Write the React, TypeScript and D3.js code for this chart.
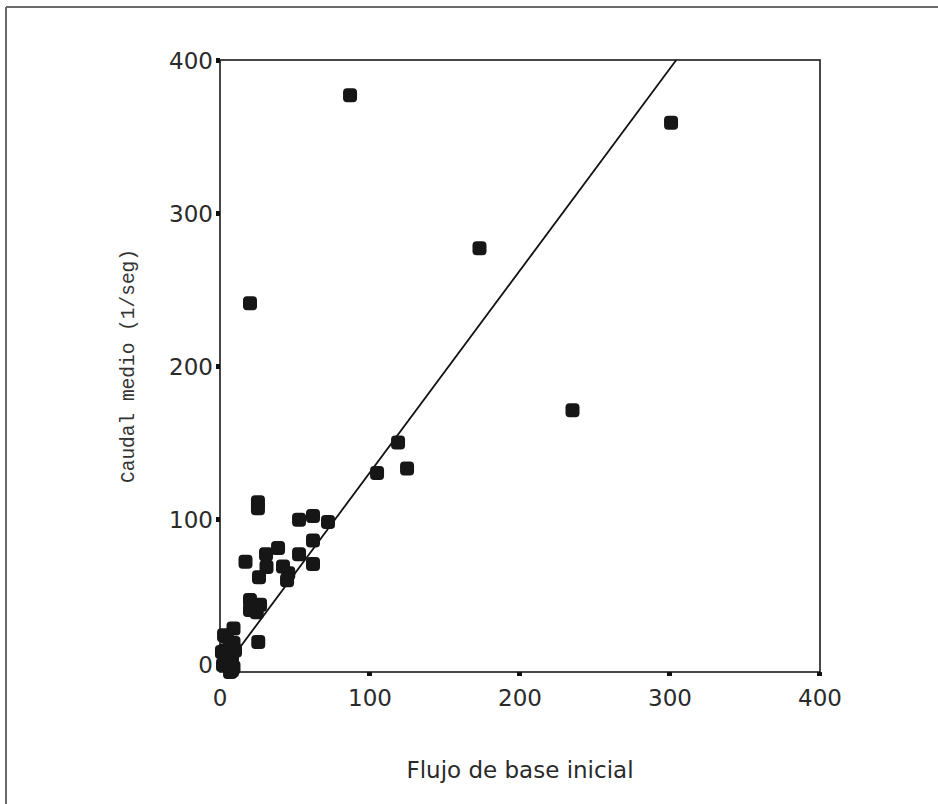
import React from "react";
import * as d3 from "d3";

const flujoBase: number[] = [
  86.7, 300.7, 173, 20, 235, 118.7, 124.7, 104.7,
  25.3, 25.3, 52.7, 62, 72, 62, 52.7, 62, 38.7, 30.7, 17, 31, 26, 42, 45.5, 44.7,
  20, 20, 26.7, 24.5, 25.5,
  9, 4.5, 9, 3.3, 8, 10, 2, 6.7, 9, 1.3, 2.7, 8, 5, 7,
];
const caudalMedio: number[] = [
  377, 359, 277, 241, 171, 150, 133, 130,
  111, 107, 99.5, 102, 98, 86, 77, 70.6, 81, 77, 72, 68.6, 62, 69, 64.6, 60,
  47, 40.5, 44, 39, 19.6,
  28.5, 23, 19, 14, 10, 14, 4.6, 0, 3, 13, 24, 1, 8, 17,
];
const xTicks: number[] = [0, 100, 200, 300, 400];
const yTicks: number[] = [0, 100, 200, 300, 400];
const fitIntercept = -1.5;
const fitSlope = 1.32;

const xLabel = "Flujo de base inicial";
const yLabel = "Caudal medio (1/seg)";

export default function App() {
  const W = 938, H = 804;
  const left = 220, right = 820, top = 60, bottom = 672;
  const x = d3.scaleLinear().domain([0, 400]).range([left, right]);
  const y = d3.scaleLinear().domain([0, 400]).range([bottom, top]);

  const fx0 = 2;
  const fx1 = (400 - fitIntercept) / fitSlope;
  const fitLine = d3.line<number>()
    .x((d) => x(d))
    .y((d) => y(fitIntercept + fitSlope * d))([fx0, fx1]);

  const tickFont = "'DejaVu Sans', sans-serif";
  const data = flujoBase.map((v, i) => [v, caudalMedio[i]]);
  const ms = 14;

  return (
    <svg width={W} height={H} style={{ position: "absolute", left: 0, top: 0, background: "#fff" }}>
      <rect x={0} y={0} width={W} height={H} fill="#fff" />
      {/* outer frame */}
      <line x1={6} y1={7} x2={W} y2={7} stroke="#6b6b6b" strokeWidth={2} />
      <line x1={6} y1={7} x2={6} y2={H} stroke="#6b6b6b" strokeWidth={2} />

      {/* plot box */}
      <rect x={left} y={top} width={right - left} height={bottom - top} fill="none" stroke="#1a1a1a" strokeWidth={1.6} />

      {/* tick markers */}
      {xTicks.filter((t) => t > 0).map((t) => (
        <rect key={"xt" + t} x={x(t) - 3} y={bottom} width={5} height={4} fill="#111" />
      ))}
      {yTicks.filter((t) => t > 0).map((t) => (
        <rect key={"yt" + t} x={left - 4} y={y(t) - 2} width={4} height={5} fill="#111" />
      ))}

      {/* tick labels */}
      {xTicks.map((t) => (
        <text key={"xl" + t} x={x(t)} y={706} textAnchor="middle" fontFamily={tickFont} fontSize={23} fill="#2a2a2a">
          {t}
        </text>
      ))}
      {yTicks.map((t) => (
        <text key={"yl" + t} x={left - 7} y={t === 0 ? y(t) + 1 : y(t) + 9} textAnchor="end" fontFamily={tickFont} fontSize={23} fill="#2a2a2a">
          {t}
        </text>
      ))}

      {/* fit line */}
      <path d={fitLine ?? ""} fill="none" stroke="#111" strokeWidth={1.8} />

      {/* points */}
      {data.map((d, i) => (
        <rect key={i} x={x(d[0]) - ms / 2} y={y(d[1]) - ms / 2} width={ms} height={ms} rx={4} ry={4} fill="#161616" />
      ))}

      {/* axis titles */}
      <text x={520} y={778} textAnchor="middle" fontFamily={tickFont} fontSize={23} fill="#2a2a2a">
        {xLabel}
      </text>
      <text
        transform={`translate(134, 366) rotate(-90)`}
        textAnchor="middle"
        fontFamily="'Liberation Mono', 'DejaVu Sans Mono', monospace"
        fontSize={19.5}
        fill="#333"
      >
        {yLabel}
      </text>
    </svg>
  );
}
